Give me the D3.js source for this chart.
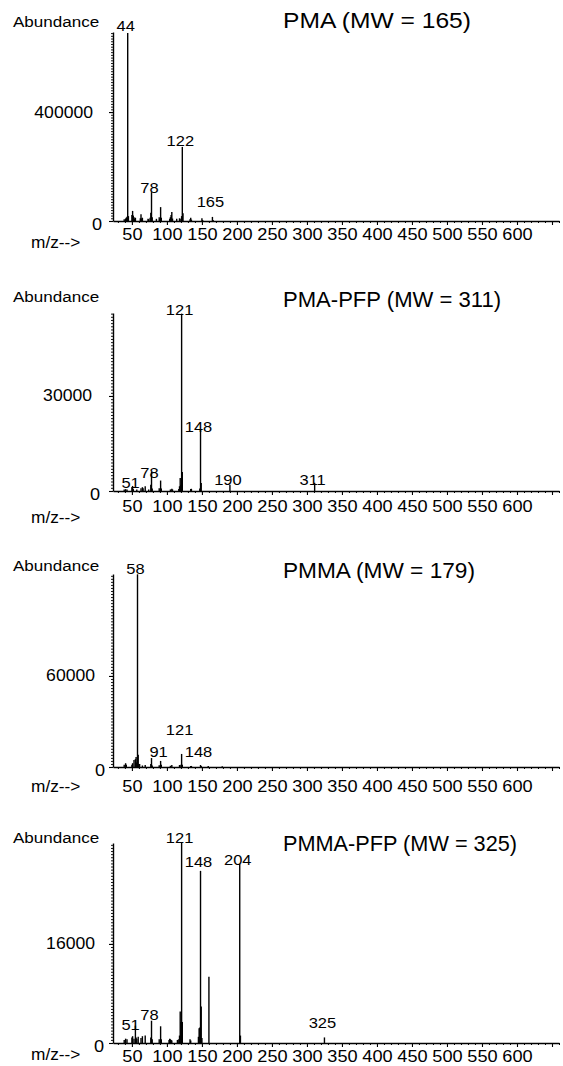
<!DOCTYPE html>
<html><head><meta charset="utf-8">
<script src="https://cdn.jsdelivr.net/npm/d3@7"></script>
<style>
body{margin:0;background:#fff}
svg{display:block}
text{font-family:"Liberation Sans", Arial, Helvetica, sans-serif; fill:#000}
</style>
</head><body>
<svg id="c" width="563" height="1066"></svg>
<script>
// ---------- DATA ----------
const titles = ["PMA (MW = 165)", "PMA-PFP (MW = 311)", "PMMA (MW = 179)", "PMMA-PFP (MW = 325)"];
const yTickValues = [400000, 30000, 60000, 16000];
const yMaxValues = [694000, 56200, 127200, 32300];
const yMinorSteps = [10000, 1000, 2000, 500];
const xMajorTicks = [50,100,150,200,250,300,350,400,450,500,550,600,650];
const xTickLabels = ["50","100","150","200","250","300","350","400","450","500","550","600",""];
const xDomain = [23, 660];

// [m/z, abundance]
const pmaPeaks = [[39,6000],[41,9000],[42,12000],[43,16000],[44,690000],[45,18000],
  [50,22000],[51,37000],[52,20000],[53,14000],[54,8000],[55,12000],
  [62,10000],[63,25000],[64,9000],[65,12000],
  [73,8000],[74,6000],[76,12000],[77,30000],[78,106000],[79,14000],
  [85,8000],[89,14000],[90,8000],[91,51000],[92,12000],
  [104,8000],[105,14000],[106,22000],[107,33000],[108,9000],
  [114,8000],[118,10000],[120,8000],[121,18000],[122,272000],[123,28000],
  [133,6000],[134,12000],[135,5000],[150,10000],[151,4000],[165,15000],[166,4000]];
const pmaPfpPeaks = [[39,500],[41,600],[43,500],[50,1200],[51,1600],[52,600],[57,500],[63,900],
  [65,1200],[66,900],[69,1500],[74,500],[77,2000],[78,6000],[79,800],[89,900],[91,3300],[92,800],
  [105,500],[107,700],[108,500],[117,600],[118,1500],[119,4100],[120,2000],[121,56000],[122,6000],
  [134,600],[135,700],[147,800],[148,19300],[149,2500],[190,2000],[311,2600]];
const pmmaPeaks = [[39,1500],[41,2500],[42,1500],[50,1500],[51,2500],[53,4600],[55,5200],[56,6600],
  [57,3000],[58,127000],[59,8000],[60,2000],[61,2000],[65,1000],[69,1300],[77,2000],[78,5900],
  [79,1000],[89,1200],[91,4000],[92,1500],[105,800],[107,1300],[118,1300],[120,1500],[121,8600],
  [122,1500],[134,700],[135,700],[148,1300],[149,600],[159,600],[179,500]];
const pmmaPfpPeaks = [[39,500],[41,700],[43,600],[50,900],[51,1100],[53,700],[55,2800],[56,900],
  [57,700],[59,1000],[63,800],[65,1100],[69,1200],[77,900],[78,3600],[79,600],[89,600],[91,2700],
  [92,600],[103,500],[104,700],[105,600],[106,500],[107,400],[115,500],[117,600],[118,1200],
  [119,5100],[120,3400],[121,32300],[122,3400],[133,600],[134,400],[145,1000],[146,2400],
  [147,2500],[148,27800],[149,5900],[150,800],[160,10700],[204,28900],[205,1200],[325,900]];

// [m/z, text, abundance level of label baseline]
const pmaLabels = [[44,"44",697000],[78,"78",103000],[122,"122",275000],[165,"165",51000]];
const pmaPfpLabels = [[51,"51",950],[78,"78",4100],[121,"121",55600],[148,"148",18600],[190,"190",1900],[311,"311",1900]];
const pmmaLabels = [[58,"58",127000],[91,"91",6600],[121,"121",21000],[148,"148",6600]];
const pmmaPfpLabels = [[51,"51",2100],[78,"78",3700],[121,"121",32300],[148,"148",28400],[204,"204",28800],[325,"325",2400]];

const peakSets = [pmaPeaks, pmaPfpPeaks, pmmaPeaks, pmmaPfpPeaks];
const labelSets = [pmaLabels, pmaPfpLabels, pmmaLabels, pmmaPfpLabels];

// ---------- LAYOUT ----------
const layout = [
  {base:221,  top:32,  titleY:28,  titleW:188, abY:27,  tickY:18.5, mzY:248,  labR:93, zeroR:102},
  {base:491,  top:313, titleY:307, titleW:218, abY:302, tickY:20.5, mzY:523,  labR:92, zeroR:100},
  {base:767,  top:574, titleY:578, titleW:192, abY:571, tickY:25,   mzY:792,  labR:95, zeroR:105},
  {base:1043, top:843, titleY:851, titleW:234, abY:843, tickY:18.5, mzY:1060, labR:95, zeroR:104}
];
const axisX = 113, axisRight = 559;

const svg = d3.select("#c");
svg.append("rect").attr("width",563).attr("height",1066).attr("fill","#fff");

function txt(g, x, y, s, size, anchor, sx) {
  return g.append("text")
    .attr("transform", `translate(${x},${y}) scale(${sx},1)`)
    .attr("text-anchor", anchor)
    .style("font-size", size + "px")
    .text(s);
}

layout.forEach((L, i) => {
  const g = svg.append("g");
  const x = d3.scaleLinear().domain(xDomain).range([axisX, axisRight]);
  const y = d3.scaleLinear().domain([0, yMaxValues[i]]).range([L.base, L.top]);

  // minor x ticks
  const minors = d3.range(30, 661, 10).filter(v => v % 50 !== 0);
  g.append("g").attr("transform", `translate(0,${L.base})`)
    .call(d3.axisBottom(x).tickValues(minors).tickSize(2).tickSizeOuter(0).tickFormat(""))
    .call(a => a.select(".domain").remove())
    .call(a => a.selectAll("line").attr("stroke","#000").attr("stroke-width",1));

  // major x axis
  const xa = g.append("g").attr("transform", `translate(0,${L.base})`)
    .call(d3.axisBottom(x).tickValues(xMajorTicks).tickSize(4).tickSizeOuter(0)
      .tickFormat((d, k) => xTickLabels[k]));
  xa.select(".domain").attr("stroke","#000").attr("stroke-width",1.4);
  xa.selectAll("line").attr("stroke","#000").attr("stroke-width",1.1);
  xa.selectAll("text")
    .attr("y", 0).attr("dy", 0)
    .attr("transform", `translate(0,${L.tickY}) scale(1.1,1)`)
    .style("font-size", "16.5px")
    .style("font-family", '"Liberation Sans", Arial, sans-serif')
    .attr("fill", "#000");

  // y axis: minor ticks
  const yMinor = d3.range(0, yMaxValues[i] + 1, yMinorSteps[i]);
  g.append("g").attr("transform", `translate(${axisX},0)`)
    .call(d3.axisLeft(y).tickValues(yMinor).tickSize(2).tickSizeOuter(0).tickFormat(""))
    .call(a => a.select(".domain").attr("stroke","#000").attr("stroke-width",1.4))
    .call(a => a.selectAll("line").attr("stroke","#000").attr("stroke-width",0.9));
  g.append("g").attr("transform", `translate(${axisX},0)`)
    .call(d3.axisLeft(y).tickValues([0, yTickValues[i]]).tickSize(4).tickSizeOuter(0).tickFormat(""))
    .call(a => a.select(".domain").remove())
    .call(a => a.selectAll("line").attr("stroke","#000").attr("stroke-width",1.1));

  // y labels
  txt(g, L.labR, y(yTickValues[i]) + 5.5, String(yTickValues[i]), 16, "end", 1.1);
  txt(g, L.zeroR, y(0) + 8.5, "0", 16.5, "end", 1.1);

  // peaks
  g.append("g").selectAll("line").data(peakSets[i]).join("line")
    .attr("x1", d => x(d[0])).attr("x2", d => x(d[0]))
    .attr("y1", y(0)).attr("y2", d => y(d[1]))
    .attr("stroke", "#000").attr("stroke-width", 1.4);

  // peak labels
  const lg = g.append("g");
  labelSets[i].forEach(d => txt(lg, x(d[0]) - 2, y(d[2]), d[1], 15, "middle", 1.1));

  // title (fitted width)
  g.append("text")
    .attr("x", 283).attr("y", L.titleY)
    .attr("textLength", L.titleW).attr("lengthAdjust", "spacingAndGlyphs")
    .style("font-size", "22px")
    .text(titles[i]);
  txt(g, 13, L.abY, "Abundance", 15.5, "start", 1.1);
  txt(g, 31, L.mzY, "m/z-->", 16, "start", 1.08);
});
</script>
</body></html>
